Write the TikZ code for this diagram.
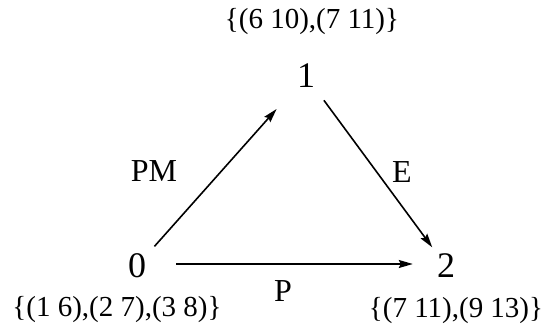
\documentclass[tikz,border=0pt]{standalone}
\usepackage{fontspec}
\setmainfont{Liberation Serif}
\usetikzlibrary{arrows.meta}
\begin{document}
\begin{tikzpicture}[x=1pt,y=-1pt,
  statenode/.style={circle,inner sep=0pt,minimum size=40pt,font=\fontsize{36}{40}\selectfont},
  setlabel/.style={anchor=base,inner sep=0pt,font=\fontsize{29}{34}\selectfont},
  edgelabel/.style={anchor=base,inner sep=0pt,font=\fontsize{32}{36}\selectfont},
  trans/.style={line width=1.6pt,-{Stealth[length=14pt,width=8pt,inset=2pt]}}]
\useasboundingbox (0,0) rectangle (544,328);
\node[statenode] (n0) at (137,266) {0};
\node[statenode] (n1) at (306,76) {1};
\node[statenode] (n2) at (446,266) {2};
\node[setlabel] (s1) at (312,29) {\{(6 10),(7 11)\}};
\node[setlabel] (s0) at (117,317) {\{(1 6),(2 7),(3 8)\}};
\node[setlabel] (s2) at (456,318) {\{(7 11),(9 13)\}};
\node[edgelabel] (lpm) at (154,182) {PM};
\node[edgelabel] (le) at (402,183) {E};
\node[edgelabel] (lp) at (283,302) {P};
\draw[trans,shorten <=6pt,shorten >=24pt] (n0) -- (n1);
\draw[trans,shorten <=10pt,shorten >=3pt] (n1) -- (n2);
\draw[trans,shorten <=19pt,shorten >=13pt] ([yshift=2pt]n0.east) -- ([yshift=2pt]n2.west);
\end{tikzpicture}
\end{document}
